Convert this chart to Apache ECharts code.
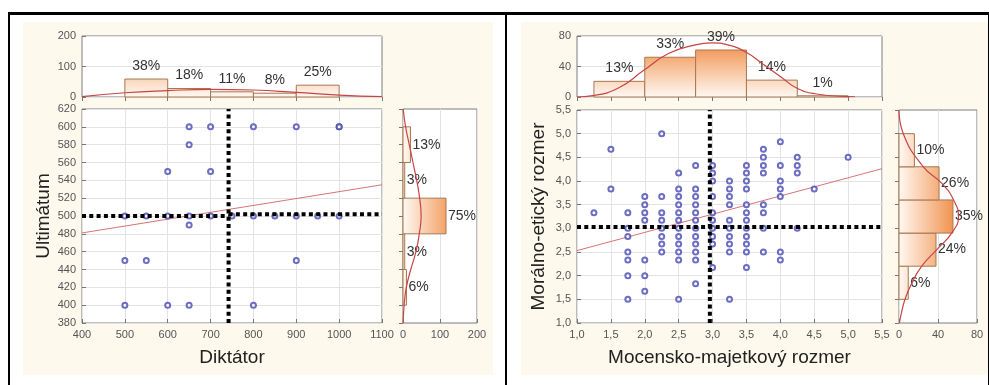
<!DOCTYPE html>
<html>
<head>
<meta charset="utf-8">
<script src="https://cdn.jsdelivr.net/npm/echarts@6/dist/echarts.min.js"></script>
<style>
  html, body { margin: 0; padding: 0; background: #fff; }
  #wrap { position: relative; width: 989px; height: 385px; overflow: hidden; }
  .panel { position: absolute; background: #fdf9ed; }
  .rule { position: absolute; background: #000; }
  #c { position: absolute; left: 0; top: 0; width: 989px; height: 385px; }
</style>
</head>
<body>
<div id="wrap">
  <div class="panel" style="left:23px; top:22px; width:470px; height:353px;"></div>
  <div class="panel" style="left:521px; top:22px; width:467px; height:353px;"></div>
  <div class="rule" style="left:8px; top:12px; width:981px; height:3px;"></div>
  <div class="rule" style="left:8px; top:12px; width:2px; height:373px;"></div>
  <div class="rule" style="left:505px; top:12px; width:2px; height:373px;"></div>
  <div class="rule" style="left:988px; top:12px; width:2px; height:373px;"></div>
  <div id="c"></div>
</div>
<script>
// ---------- Left panel: Diktátor × Ultimátum ----------
const dikX = [650, 700, 800, 900, 1000, 1000, 650, 600, 700,
              500, 550, 600, 650, 700, 750, 800, 850, 900, 950, 1000,
              650, 500, 550, 900, 500, 600, 650, 800];
const ultY = [600, 600, 600, 600, 600, 600, 580, 550, 550,
              500, 500, 500, 500, 500, 500, 500, 500, 500, 500, 500,
              490, 450, 450, 450, 400, 400, 400, 400];
const dikRegLine = [[400, 481], [1100, 535]];
const dikMean = 742;
const ultMeanLeft = 500;
const ultMeanRight = 502;
const leftN = 155;
const dikBinEdges = [500, 600, 700, 800, 900, 1000];
const dikPct = [38, 18, 11, 8, 25];
const ultBinEdges = [400, 440, 480, 520, 560, 600];
const ultPct = [6, 3, 75, 3, 13];
const dikCurve = [[400, 1], [500, 14], [600, 21], [700, 25], [800, 23], [900, 15], [1000, 6], [1100, 1]];
const ultCurve = [[0.5, 620], [7, 600], [17, 580], [27, 560], [37, 540], [45, 520], [49, 500],
                  [44, 480], [35, 460], [21, 440], [9, 420], [3, 400], [0.5, 380]];

// ---------- Right panel: Mocensko-majetkový × Morálno-etický ----------
const mocCols = [1.25, 1.5, 1.75, 2.0, 2.25, 2.5, 2.75, 3.0, 3.25, 3.5, 3.75, 4.0, 4.25, 4.5, 5.0];
const morByCol = [
  [3.33],
  [4.67, 3.83],
  [3.33, 3.0, 2.83, 2.5, 2.33, 2.0, 1.5],
  [3.67, 3.5, 3.33, 3.17, 2.33, 2.0, 1.67],
  [5.0, 3.67, 3.33, 3.17, 3.0, 2.83, 2.67, 2.5],
  [4.17, 3.83, 3.67, 3.5, 3.33, 3.17, 3.0, 2.83, 2.67, 2.5, 2.33, 1.5],
  [4.33, 3.83, 3.67, 3.5, 3.33, 3.17, 3.0, 2.83, 2.67, 2.5, 2.33, 1.83],
  [4.33, 4.17, 4.0, 3.67, 3.33, 3.17, 3.0, 2.83, 2.67, 2.17],
  [4.0, 3.83, 3.67, 3.5, 3.17, 3.0, 2.83, 2.67, 2.5, 1.5],
  [4.33, 4.17, 4.0, 3.83, 3.5, 3.33, 3.17, 3.0, 2.83, 2.67, 2.5, 2.17],
  [4.67, 4.5, 4.33, 4.17, 3.5, 3.33, 3.0, 2.5],
  [4.83, 4.33, 4.0, 3.83, 3.67, 2.5, 2.33],
  [4.5, 4.33, 4.17, 3.0],
  [3.83],
  [4.5]
];
const mocRegLine = [[1.0, 2.53], [5.5, 4.26]];
const mocMean = 2.96;
const morMean = 3.03;
const rightN = 158;
const mocBinEdges = [1.25, 2.0, 2.75, 3.5, 4.25, 5.0];
const mocPct = [13, 33, 39, 14, 1];
const morBinEdges = [1.5, 2.2, 2.9, 3.6, 4.3, 5.0];
const morPct = [6, 24, 35, 26, 10];
const mocCurve = [[1.0, 0], [1.23, 1.7], [1.61, 11.7], [1.98, 34.6], [2.35, 57], [2.73, 68], [2.99, 71],
                  [3.24, 68], [3.49, 59], [3.73, 44], [4.0, 27], [4.24, 11.7], [4.51, 4.3], [5.0, 0.5], [5.1, 0.3]];
const morCurve = [[0, 5.5], [4.4, 5.0], [25, 4.3], [44, 3.95], [56, 3.6], [61, 3.25], [54, 2.9],
                  [38.7, 2.55], [23, 2.19], [13, 1.84], [6, 1.49], [1.7, 1.14], [0.5, 1.0]];

// ---------- helpers ----------
const FONT = '"Liberation Sans", Arial, sans-serif';
const LBL = { color: '#555', fontSize: 11, fontFamily: FONT };
const TITLE = { color: '#222', fontSize: 19, fontFamily: FONT };
const GRID_LINE = { show: true, lineStyle: { color: '#e3e3e3', width: 1 } };
const TICK = { show: true, inside: true, length: 4, lineStyle: { color: '#777' } };
const comma = v => v.toFixed(1).replace('.', ',');
const plain = v => String(v);

function binRows(edges, pct, n) {
  return pct.map((p, i) => [edges[i], edges[i + 1], p * n / 100, p]);
}
function pairs(xs, ys) { return xs.map((x, i) => [x, ys[i]]); }
function colPairs(cols, byCol) {
  const out = [];
  cols.forEach((x, i) => byCol[i].forEach(y => out.push([x, y])));
  return out;
}

const BAR_STROKE = '#a9764f';
const BAR_LIGHT = '#fff8f2';
const BAR_DARK = '#f0904a';
const LABEL_STYLE = { font: '14px ' + FONT, fill: '#333' };

// Histogram drawn along the x axis (bars upward)
function renderUp(params, api) {
  const lo = api.value(0), hi = api.value(1), cnt = api.value(2), pct = api.value(3);
  const a = api.coord([lo, 0]);
  const b = api.coord([hi, cnt]);
  const cs = params.coordSys;
  const fill = new echarts.graphic.LinearGradient(0, cs.y + cs.height, 0, cs.y + cs.height * 0.12,
    [{ offset: 0, color: BAR_LIGHT }, { offset: 1, color: BAR_DARK }], true);
  return {
    type: 'group',
    children: [
      { type: 'rect', shape: { x: a[0], y: b[1], width: b[0] - a[0], height: a[1] - b[1] },
        style: { fill: fill, stroke: BAR_STROKE, lineWidth: 1 } },
      { type: 'text', z2: 10,
        style: Object.assign({ text: pct + '%', x: (a[0] + b[0]) / 2, y: b[1] - 6,
          align: 'center', verticalAlign: 'bottom' }, LABEL_STYLE) }
    ]
  };
}
// Histogram drawn along the y axis (bars to the right)
function renderSide(params, api) {
  const lo = api.value(0), hi = api.value(1), cnt = api.value(2), pct = api.value(3);
  const a = api.coord([0, lo]);
  const b = api.coord([cnt, hi]);
  const cs = params.coordSys;
  const fill = new echarts.graphic.LinearGradient(cs.x, 0, cs.x + cs.width * 0.72, 0,
    [{ offset: 0, color: BAR_LIGHT }, { offset: 1, color: BAR_DARK }], true);
  return {
    type: 'group',
    children: [
      { type: 'rect', shape: { x: a[0], y: b[1], width: b[0] - a[0], height: a[1] - b[1] },
        style: { fill: fill, stroke: BAR_STROKE, lineWidth: 1 } },
      { type: 'text', z2: 10,
        style: Object.assign({ text: pct + '%', x: b[0] + 2, y: (a[1] + b[1]) / 2,
          align: 'left', verticalAlign: 'middle' }, LABEL_STYLE) }
    ]
  };
}

const gridBase = { show: true, backgroundColor: '#fff', borderColor: '#7c7c7c', borderWidth: 1 };
const CURVE = { color: '#c94444', width: 1.2 };
const DOTTED = { color: '#000', width: 4, type: [4, 3.3], cap: 'butt' };
const POINT = { color: '#4848b2', borderWidth: 1.1 };
const FIT = { color: '#d67474', width: 1 };

const option = {
  animation: false,
  backgroundColor: 'transparent',
  grid: [
    Object.assign({ left: 82, top: 36, width: 300, height: 61 }, gridBase),
    Object.assign({ left: 82, top: 109, width: 300, height: 214 }, gridBase),
    Object.assign({ left: 403, top: 109, width: 74, height: 214 }, gridBase),
    Object.assign({ left: 577, top: 36, width: 305, height: 61 }, gridBase),
    Object.assign({ left: 577, top: 110, width: 305, height: 213 }, gridBase),
    Object.assign({ left: 899, top: 110, width: 78, height: 213 }, gridBase)
  ],
  xAxis: [
    { gridIndex: 0, type: 'value', min: 400, max: 1100, interval: 100, position: 'top',
      axisLine: { show: false }, axisTick: TICK, axisLabel: { show: false }, splitLine: { show: false } },
    { gridIndex: 1, type: 'value', min: 400, max: 1100, interval: 100,
      axisLine: { show: false }, axisTick: TICK,
      axisLabel: Object.assign({ margin: 6, formatter: plain }, LBL),
      splitLine: GRID_LINE,
      name: 'Diktátor', nameLocation: 'middle', nameGap: 25, nameTextStyle: TITLE },
    { gridIndex: 2, type: 'value', min: 0, max: 200, interval: 100,
      axisLine: { show: false }, axisTick: TICK,
      axisLabel: Object.assign({ margin: 6, formatter: plain }, LBL),
      splitLine: GRID_LINE },
    { gridIndex: 3, type: 'value', min: 1, max: 5.5, interval: 0.5, position: 'top',
      axisLine: { show: false }, axisTick: TICK, axisLabel: { show: false }, splitLine: { show: false } },
    { gridIndex: 4, type: 'value', min: 1, max: 5.5, interval: 0.5,
      axisLine: { show: false }, axisTick: TICK,
      axisLabel: Object.assign({ margin: 6, formatter: comma }, LBL),
      splitLine: GRID_LINE,
      name: 'Mocensko-majetkový rozmer', nameLocation: 'middle', nameGap: 25, nameTextStyle: TITLE },
    { gridIndex: 5, type: 'value', min: 0, max: 80, interval: 40,
      axisLine: { show: false }, axisTick: TICK,
      axisLabel: Object.assign({ margin: 6, formatter: plain }, LBL),
      splitLine: GRID_LINE }
  ],
  yAxis: [
    { gridIndex: 0, type: 'value', min: 0, max: 200, interval: 100,
      axisLine: { show: false }, axisTick: TICK,
      axisLabel: Object.assign({ margin: 6, formatter: plain }, LBL),
      splitLine: GRID_LINE },
    { gridIndex: 1, type: 'value', min: 380, max: 620, interval: 20,
      axisLine: { show: false }, axisTick: TICK,
      axisLabel: Object.assign({ margin: 6, formatter: plain }, LBL),
      splitLine: GRID_LINE,
      name: 'Ultimátum', nameLocation: 'middle', nameGap: 29, nameTextStyle: TITLE },
    { gridIndex: 2, type: 'value', min: 380, max: 620, interval: 20, position: 'right',
      axisLine: { show: false }, axisTick: TICK, axisLabel: { show: false }, splitLine: { show: false } },
    { gridIndex: 3, type: 'value', min: 0, max: 80, interval: 40,
      axisLine: { show: false }, axisTick: TICK,
      axisLabel: Object.assign({ margin: 6, formatter: plain }, LBL),
      splitLine: GRID_LINE },
    { gridIndex: 4, type: 'value', min: 1, max: 5.5, interval: 0.5,
      axisLine: { show: false }, axisTick: TICK,
      axisLabel: Object.assign({ margin: 6, formatter: comma }, LBL),
      splitLine: GRID_LINE,
      name: 'Morálno-etický rozmer', nameLocation: 'middle', nameGap: 29, nameTextStyle: TITLE },
    { gridIndex: 5, type: 'value', min: 1, max: 5.5, interval: 0.5, position: 'right',
      axisLine: { show: false }, axisTick: TICK, axisLabel: { show: false }, splitLine: { show: false } }
  ],
  series: [
    // left: marginal histograms and fitted curves
    { type: 'custom', xAxisIndex: 0, yAxisIndex: 0, renderItem: renderUp,
      data: binRows(dikBinEdges, dikPct, leftN), z: 2 },
    { type: 'line', xAxisIndex: 0, yAxisIndex: 0, data: dikCurve, smooth: true,
      showSymbol: false, lineStyle: CURVE, z: 3 },
    { type: 'custom', xAxisIndex: 2, yAxisIndex: 2, renderItem: renderSide,
      data: binRows(ultBinEdges, ultPct, leftN), z: 2 },
    { type: 'line', xAxisIndex: 2, yAxisIndex: 2, data: ultCurve, smooth: true,
      showSymbol: false, lineStyle: CURVE, z: 3 },
    // left: scatter, fit line, mean lines
    { type: 'scatter', xAxisIndex: 1, yAxisIndex: 1, data: pairs(dikX, ultY),
      symbol: 'emptyCircle', symbolSize: 5, itemStyle: POINT, z: 3 },
    { type: 'line', xAxisIndex: 1, yAxisIndex: 1, data: dikRegLine, showSymbol: false,
      lineStyle: FIT, z: 2 },
    { type: 'line', xAxisIndex: 1, yAxisIndex: 1, data: [[dikMean, 380], [dikMean, 620]],
      showSymbol: false, lineStyle: DOTTED, z: 4 },
    { type: 'line', xAxisIndex: 1, yAxisIndex: 1, data: [[400, ultMeanLeft], [dikMean, ultMeanLeft]],
      showSymbol: false, lineStyle: DOTTED, z: 4 },
    { type: 'line', xAxisIndex: 1, yAxisIndex: 1, data: [[dikMean, ultMeanRight], [1100, ultMeanRight]],
      showSymbol: false, lineStyle: DOTTED, z: 4 },

    // right: marginal histograms and fitted curves
    { type: 'custom', xAxisIndex: 3, yAxisIndex: 3, renderItem: renderUp,
      data: binRows(mocBinEdges, mocPct, rightN), z: 2 },
    { type: 'line', xAxisIndex: 3, yAxisIndex: 3, data: mocCurve, smooth: true,
      showSymbol: false, lineStyle: CURVE, z: 3 },
    { type: 'custom', xAxisIndex: 5, yAxisIndex: 5, renderItem: renderSide,
      data: binRows(morBinEdges, morPct, rightN), z: 2 },
    { type: 'line', xAxisIndex: 5, yAxisIndex: 5, data: morCurve, smooth: true,
      showSymbol: false, lineStyle: CURVE, z: 3 },
    // right: scatter, fit line, mean lines
    { type: 'scatter', xAxisIndex: 4, yAxisIndex: 4, data: colPairs(mocCols, morByCol),
      symbol: 'emptyCircle', symbolSize: 5, itemStyle: POINT, z: 3 },
    { type: 'line', xAxisIndex: 4, yAxisIndex: 4, data: mocRegLine, showSymbol: false,
      lineStyle: FIT, z: 2 },
    { type: 'line', xAxisIndex: 4, yAxisIndex: 4, data: [[mocMean, 1], [mocMean, 5.5]],
      showSymbol: false, lineStyle: DOTTED, z: 4 },
    { type: 'line', xAxisIndex: 4, yAxisIndex: 4, data: [[1, morMean], [5.5, morMean]],
      showSymbol: false, lineStyle: DOTTED, z: 4 }
  ]
};

const chart = echarts.init(document.getElementById('c'), null, { renderer: 'canvas' });
chart.setOption(option);
</script>
</body>
</html>
